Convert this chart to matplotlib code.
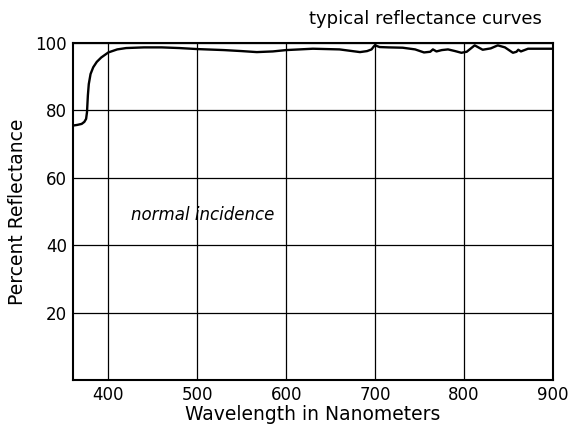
import matplotlib
matplotlib.use("Agg")
import matplotlib.pyplot as plt

wavelength = [360, 365, 370, 373, 375, 376, 377, 378, 380, 383, 387, 392, 400, 410, 420, 440, 460, 480,
              500, 530, 550, 567, 585, 600, 630, 660, 683, 691, 696, 698, 700, 702, 705, 715,
              731, 745, 755, 762, 765, 769, 775, 782, 790, 797, 803, 812, 821, 830, 838, 846,
              855, 859, 861, 864, 868, 872, 885, 900]
reflectance = [75.5, 75.7, 76.0, 76.6, 77.5, 79.5, 84.5, 87.8, 90.8, 92.8, 94.4, 95.7, 97.2, 98.1, 98.5, 98.7, 98.7, 98.5,
               98.2, 97.9, 97.6, 97.3, 97.5, 97.9, 98.3, 98.1, 97.3, 97.6, 98.1, 98.8, 99.4, 99.1, 98.8, 98.7,
               98.6, 98.1, 97.2, 97.4, 98.1, 97.5, 97.9, 98.1, 97.6, 97.1, 97.4, 99.3, 98.0, 98.4, 99.3, 98.7,
               97.1, 97.4, 98.0, 97.5, 97.9, 98.3, 98.3, 98.3]

xticks = [400, 500, 600, 700, 800, 900]
yticks = [20, 40, 60, 80, 100]

plt.rcParams['font.family'] = ['DejaVu Sans']
fig = plt.figure(figsize=(5.73, 4.30), dpi=100)
ax = fig.add_axes([0.127, 0.116, 0.838, 0.784])

ax.plot(wavelength, reflectance, color='black', lw=1.7, zorder=3)
ax.set_xlim(360, 900)
ax.set_ylim(0, 100)
ax.set_xticks(xticks)
ax.set_yticks(yticks)
ax.grid(True, color='black', lw=0.9)
ax.tick_params(length=0, labelsize=12, pad=4)
for s in ax.spines.values():
    s.set_linewidth(1.5)
ax.set_xlabel("Wavelength in Nanometers", fontsize=13.5, labelpad=1)
ax.set_ylabel("Percent Reflectance", fontsize=13.5, labelpad=6)
ax.text(425, 49, "normal incidence", fontsize=12, style='italic', va='center', ha='left')
fig.text(0.945, 0.955, "typical reflectance curves", fontsize=13, ha='right', va='center')

fig.savefig("out.png", dpi=100)
